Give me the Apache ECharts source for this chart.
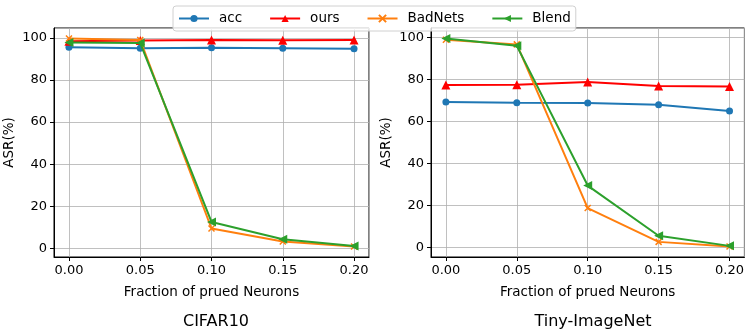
<!DOCTYPE html>
<html>
<head>
<meta charset="utf-8">
<script src="https://cdn.jsdelivr.net/npm/echarts@6.0.0/dist/echarts.min.js"></script>
<style>
    html, body { margin: 0; padding: 0; background: #fff; }
    #chart { width: 747px; height: 333px; }
</style>
</head>
<body>
<div id="chart"></div>
<script>
// fraction of pruned neurons
const xValues = [0, 0.05, 0.1, 0.15, 0.2];

// CIFAR10
const cifarAcc = [95.6, 95.1, 95.3, 95.1, 94.9];
const cifarOurs = [98.4, 98.8, 99.1, 98.9, 99.1];
const cifarBadNets = [99.8, 99.0, 9.4, 3.2, 0.8];
const cifarBlend = [97.9, 97.6, 12.5, 4.3, 1.1];

// Tiny-ImageNet
const tinyAcc = [69.3, 68.9, 68.8, 68.0, 65.0];
const tinyOurs = [77.4, 77.5, 78.8, 76.9, 76.6];
const tinyBadNets = [98.9, 96.7, 18.8, 2.7, 0.5];
const tinyBlend = [99.5, 96.0, 29.5, 5.6, 0.8];

const seriesNames = ["acc", "ours", "BadNets", "Blend"];
const subTitles = ["CIFAR10", "Tiny-ImageNet"];

const font = "DejaVu Sans";
const colors = ["#1f77b4", "#ff0000", "#ff7f0e", "#2ca02c"];
const crossPath = "path://M0,0L10,10M10,0L0,10";

function pairs(ys) {
    return ys.map((y, i) => [xValues[i], y]);
}

function xAxisFor(gridIndex) {
    return {
        type: "value",
        gridIndex: gridIndex,
        min: -0.0105,
        max: 0.2105,
        name: "Fraction of prued Neurons",
        nameLocation: "middle",
        nameGap: 28,
        nameTextStyle: { fontFamily: font, fontSize: 13.5, color: "#000" },
        axisLine: { onZero: false, lineStyle: { color: "#000", width: 1 } },
        axisTick: { length: 4, lineStyle: { color: "#000" } },
        axisLabel: {
            fontFamily: font,
            fontSize: 13,
            color: "#000",
            margin: 7,
            showMinLabel: false,
            showMaxLabel: false,
            formatter: v => v.toFixed(2)
        },
        splitLine: { show: true, lineStyle: { color: "#b0b0b0", width: 0.8 } }
    };
}

function yAxisFor(gridIndex, min, max) {
    return {
        type: "value",
        gridIndex: gridIndex,
        min: min,
        max: max,
        name: "ASR(%)",
        nameLocation: "middle",
        nameRotate: 90,
        nameGap: 38,
        nameTextStyle: { fontFamily: font, fontSize: 13.5, color: "#000" },
        axisLine: { show: true, onZero: false, lineStyle: { color: "#000", width: 1 } },
        axisTick: { show: true, length: 4, lineStyle: { color: "#000" } },
        axisLabel: {
            fontFamily: font,
            fontSize: 13,
            color: "#000",
            margin: 7,
            showMinLabel: false,
            showMaxLabel: false
        },
        splitLine: { show: true, lineStyle: { color: "#b0b0b0", width: 0.8 } }
    };
}

function lineSeries(name, data, gridIndex) {
    const idx = seriesNames.indexOf(name);
    const s = {
        name: name,
        type: "line",
        xAxisIndex: gridIndex,
        yAxisIndex: gridIndex,
        data: pairs(data),
        color: colors[idx],
        lineStyle: { width: 2 },
        symbolSize: 7,
        z: 2 + idx,
        animation: false
    };
    if (name === "acc") {
        s.symbol = "circle";
    } else if (name === "ours") {
        s.symbol = "triangle";
        s.symbolSize = 9;
    } else if (name === "BadNets") {
        s.symbol = crossPath;
        s.symbolSize = 6;
        s.itemStyle = { color: colors[idx], borderColor: colors[idx], borderWidth: 1.5 };
    } else {
        s.symbol = "triangle";
        s.symbolRotate = 90;
        s.symbolSize = 9;
    }
    return s;
}

const chart = echarts.init(document.getElementById("chart"));

const option = {
    animation: false,
    title: [
        {
            text: subTitles[0],
            left: 211,
            top: 309,
            textAlign: "center",
            textStyle: { fontFamily: font, fontSize: 16, fontWeight: "normal", color: "#000" }
        },
        {
            text: subTitles[1],
            left: 588,
            top: 309,
            textAlign: "center",
            textStyle: { fontFamily: font, fontSize: 16, fontWeight: "normal", color: "#000" }
        }
    ],
    legend: {
        data: seriesNames,
        left: 173,
        top: 6,
        itemWidth: 30,
        itemHeight: 9,
        itemGap: 27,
        padding: [4, 5],
        backgroundColor: "rgba(255,255,255,0.8)",
        borderColor: "#d0d0d0",
        borderWidth: 1,
        borderRadius: 3,
        textStyle: { fontFamily: font, fontSize: 13.5, color: "#000", padding: [0, 0, 0, 5], lineHeight: 17 }
    },
    grid: [
        { left: 54, right: 378, top: 28, bottom: 76, show: true, borderColor: "#000", borderWidth: 1 },
        { left: 431, right: 2, top: 28, bottom: 76, show: true, borderColor: "#000", borderWidth: 1 }
    ],
    xAxis: [xAxisFor(0), xAxisFor(1)],
    yAxis: [yAxisFor(0, -4.15, 104.75), yAxisFor(1, -4.5, 104.5)],
    series: [
        lineSeries("acc", cifarAcc, 0),
        lineSeries("ours", cifarOurs, 0),
        lineSeries("BadNets", cifarBadNets, 0),
        lineSeries("Blend", cifarBlend, 0),
        lineSeries("acc", tinyAcc, 1),
        lineSeries("ours", tinyOurs, 1),
        lineSeries("BadNets", tinyBadNets, 1),
        lineSeries("Blend", tinyBlend, 1)
    ]
};

chart.setOption(option);
</script>
</body>
</html>
